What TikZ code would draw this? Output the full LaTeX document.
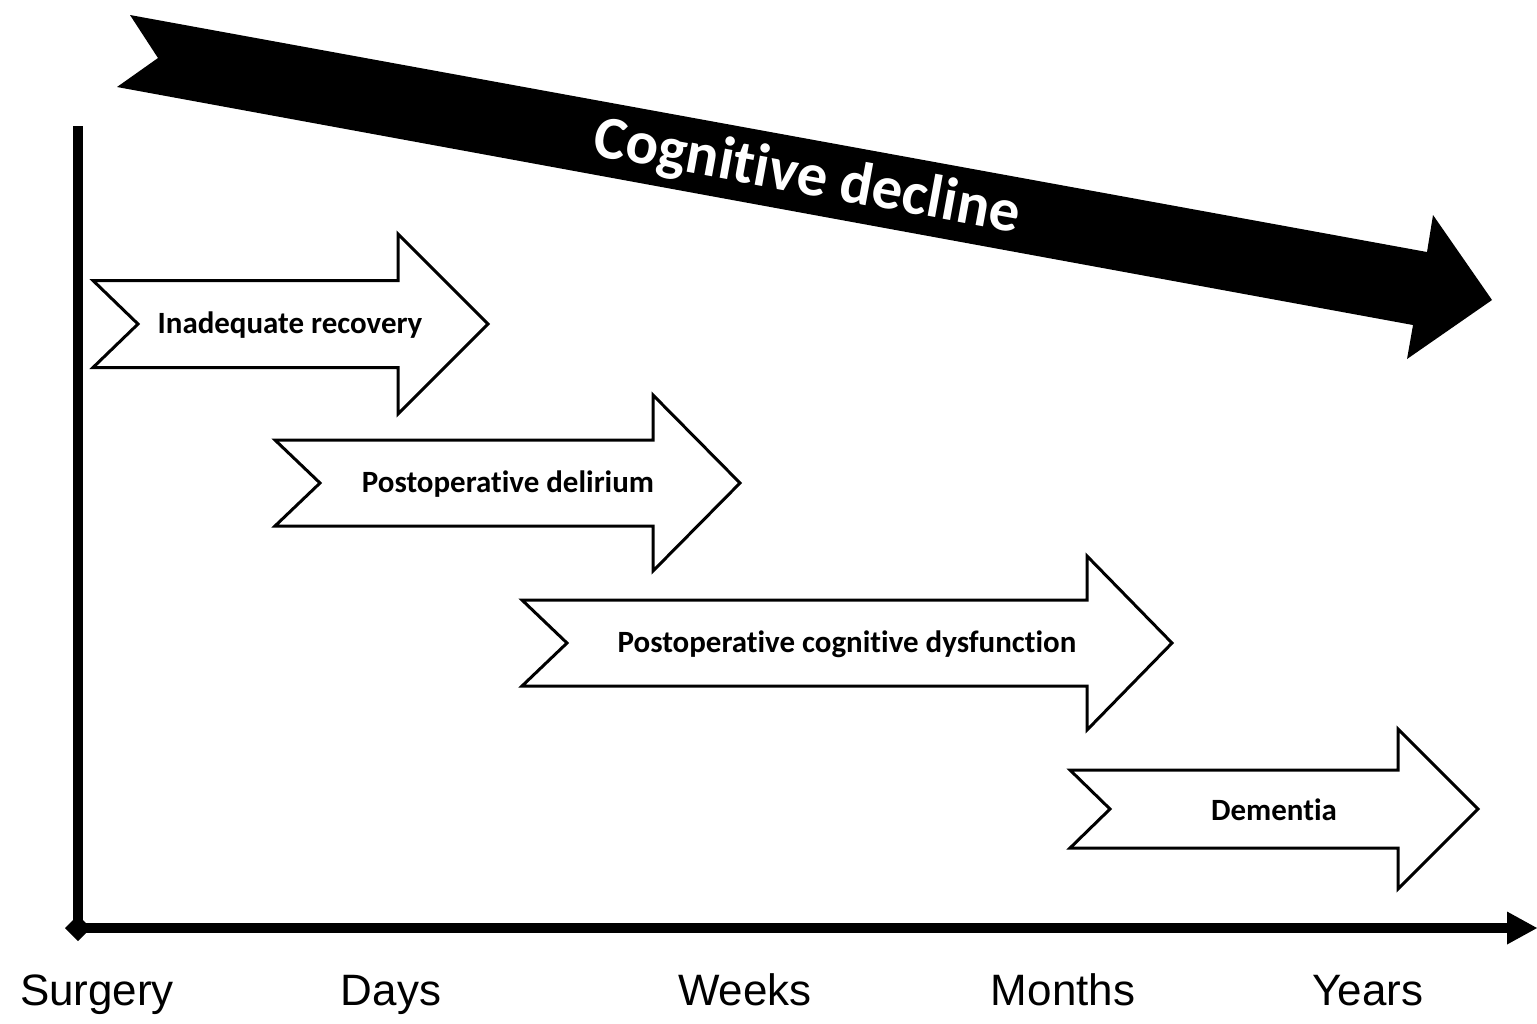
\documentclass[tikz,border=0pt]{standalone}
\usepackage{fontspec}
\setmainfont{Liberation Sans}
\newfontfamily\carlito[Ligatures={NoCommon,NoContextual,NoRequired}]{Carlito}
\usetikzlibrary{arrows.meta}
\tikzset{
  chev/.style={draw=black, line width=0.85pt, fill=white, line join=miter},
  lbl/.style={font=\carlito\bfseries\fontsize{8.8pt}{10pt}\selectfont, inner sep=0pt},
  tick/.style={font=\fontsize{12.5pt}{14pt}\selectfont, anchor=base, inner sep=0pt},
  axis/.style={line width=2.6pt},
  bigarrow/.style={fill=black},
  biglbl/.style={font=\carlito\bfseries\fontsize{17.3pt}{20pt}\selectfont, text=white, inner sep=0pt, rotate=-10.35},
}
% L notchx S T C h H
\newcommand\chevarrow[7]{%
  \draw[chev] (#1,#5-#6) -- (#3,#5-#6) -- (#3,#5-#7) -- (#4,#5) -- (#3,#5+#7)
    -- (#3,#5+#6) -- (#1,#5+#6) -- (#2,#5) -- cycle;}
\begin{document}
\begin{tikzpicture}[x=0.01cm, y=-0.01cm]
\useasboundingbox (0,0) rectangle (1537,1023);

% big black arrow
\fill[bigarrow] (130,15) -- (1427,252) -- (1433,215) -- (1492,300) -- (1407,359)
  -- (1413,325) -- (117,87) -- (158,58) -- cycle;
\node[biglbl] (cd) at (807,178) {Cognitive decline};

% chevron arrows
\chevarrow{93}{138}{398}{488}{324}{43.5}{90}
\node[lbl] (a1) at (290,325) {Inadequate recovery};
\chevarrow{275}{320}{653}{740}{483}{43}{88}
\node[lbl] (a2) at (508,484) {Postoperative delirium};
\chevarrow{522}{567}{1087}{1172}{643}{43}{87}
\node[lbl] (a3) at (847,644) {Postoperative cognitive dysfunction};
\chevarrow{1070}{1110}{1398}{1478}{809}{39}{80}
\node[lbl] (a4) at (1274,810) {Dementia};

% axes
\coordinate (O) at (78,928);
\coordinate (ytop) at (78,126);
\coordinate (xend) at (1537,928);
\draw[axis] (O) -- (ytop);
\draw[axis, -{Triangle[length=0.3cm, width=0.33cm, line width=0pt]}] (O) -- (xend);
\fill[shift={(O)}] (-13,0) -- (0,-13) -- (13,0) -- (0,13) -- cycle;

% time labels
\node[tick] (t0) at (97,1005) {Surgery};
\node[tick] (t1) at (391,1005) {Days};
\node[tick] (t2) at (745,1005) {Weeks};
\node[tick] (t3) at (1063,1005) {Months};
\node[tick] (t4) at (1368,1005) {Years};
\end{tikzpicture}
\end{document}
